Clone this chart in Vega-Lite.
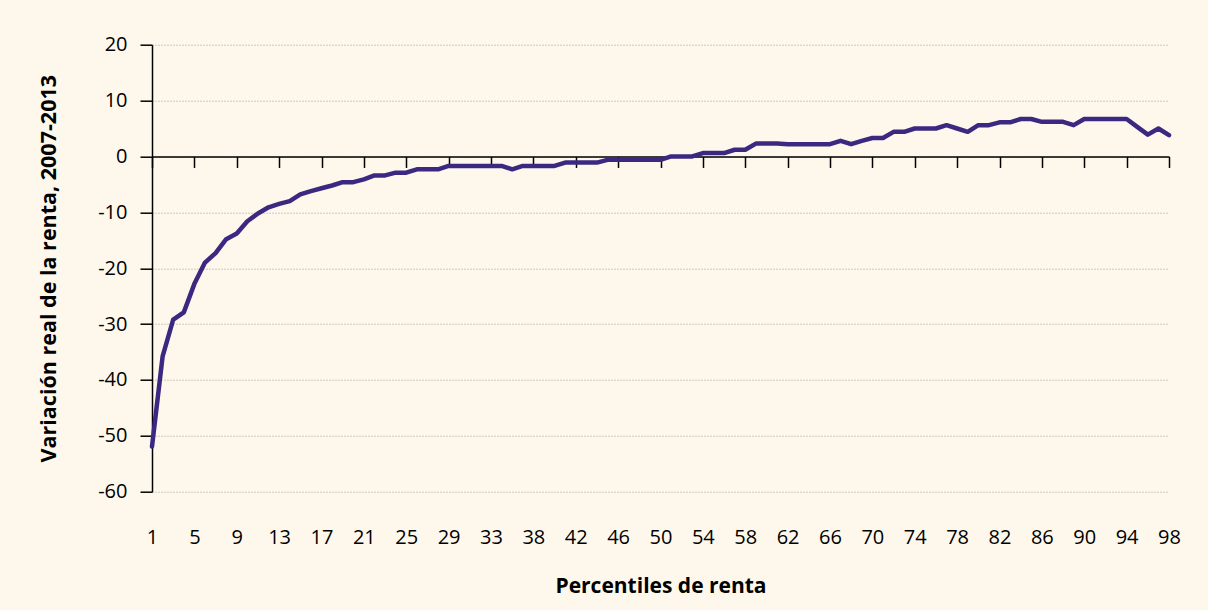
{
  "$schema": "https://vega.github.io/schema/vega-lite/v6.json",
  "autosize": "none",
  "width": 1017,
  "height": 447,
  "padding": {"left": 152, "top": 44.7, "right": 39, "bottom": 118.3},
  "background": "#fef8ec",
  "config": {
    "view": {"stroke": null},
    "font": "Open Sans",
    "axis": {"labelColor": "#000", "titleColor": "#000", "labelFont": "Open Sans", "titleFont": "Open Sans"}
  },
  "data": {
    "values": [
      {"p": 1, "v": -51.9}, {"p": 2, "v": -35.8}, {"p": 3, "v": -29.2}, {"p": 4, "v": -27.9},
      {"p": 5, "v": -22.8}, {"p": 6, "v": -19.0}, {"p": 7, "v": -17.3}, {"p": 8, "v": -14.8},
      {"p": 9, "v": -13.8}, {"p": 10, "v": -11.6}, {"p": 11, "v": -10.2}, {"p": 12, "v": -9.1},
      {"p": 13, "v": -8.5}, {"p": 14, "v": -8.0}, {"p": 15, "v": -6.8}, {"p": 16, "v": -6.2},
      {"p": 17, "v": -5.7}, {"p": 18, "v": -5.2}, {"p": 19, "v": -4.6}, {"p": 20, "v": -4.6},
      {"p": 21, "v": -4.1}, {"p": 22, "v": -3.4}, {"p": 23, "v": -3.4}, {"p": 24, "v": -2.9},
      {"p": 25, "v": -2.9}, {"p": 26, "v": -2.3}, {"p": 27, "v": -2.3}, {"p": 28, "v": -2.3},
      {"p": 29, "v": -1.7}, {"p": 30, "v": -1.7}, {"p": 31, "v": -1.7}, {"p": 32, "v": -1.7},
      {"p": 33, "v": -1.7}, {"p": 35, "v": -1.7}, {"p": 36, "v": -2.3}, {"p": 37, "v": -1.7},
      {"p": 38, "v": -1.7}, {"p": 39, "v": -1.7}, {"p": 40, "v": -1.7}, {"p": 41, "v": -1.1},
      {"p": 42, "v": -1.1}, {"p": 43, "v": -1.1}, {"p": 44, "v": -1.1}, {"p": 45, "v": -0.6},
      {"p": 46, "v": -0.6}, {"p": 47, "v": -0.6}, {"p": 48, "v": -0.6}, {"p": 49, "v": -0.6},
      {"p": 50, "v": -0.6}, {"p": 51, "v": 0.0}, {"p": 52, "v": 0.0}, {"p": 53, "v": 0.0},
      {"p": 54, "v": 0.6}, {"p": 55, "v": 0.6}, {"p": 56, "v": 0.6}, {"p": 57, "v": 1.2},
      {"p": 58, "v": 1.2}, {"p": 59, "v": 2.3}, {"p": 60, "v": 2.3}, {"p": 61, "v": 2.3},
      {"p": 62, "v": 2.2}, {"p": 63, "v": 2.2}, {"p": 64, "v": 2.2}, {"p": 65, "v": 2.2},
      {"p": 66, "v": 2.2}, {"p": 67, "v": 2.8}, {"p": 68, "v": 2.2}, {"p": 69, "v": 2.8},
      {"p": 70, "v": 3.3}, {"p": 71, "v": 3.3}, {"p": 72, "v": 4.4}, {"p": 73, "v": 4.4},
      {"p": 74, "v": 5.0}, {"p": 75, "v": 5.0}, {"p": 76, "v": 5.0}, {"p": 77, "v": 5.6},
      {"p": 78, "v": 5.0}, {"p": 79, "v": 4.4}, {"p": 80, "v": 5.6}, {"p": 81, "v": 5.6},
      {"p": 82, "v": 6.1}, {"p": 83, "v": 6.1}, {"p": 84, "v": 6.7}, {"p": 85, "v": 6.7},
      {"p": 86, "v": 6.2}, {"p": 87, "v": 6.2}, {"p": 88, "v": 6.2}, {"p": 89, "v": 5.6},
      {"p": 90, "v": 6.7}, {"p": 91, "v": 6.7}, {"p": 92, "v": 6.7}, {"p": 93, "v": 6.7},
      {"p": 94, "v": 6.7}, {"p": 95, "v": 5.3}, {"p": 96, "v": 3.9}, {"p": 97, "v": 5.0},
      {"p": 98, "v": 3.8}
    ]
  },
  "mark": {"type": "line", "color": "#3b2881", "strokeWidth": 4.5, "strokeJoin": "round", "strokeCap": "round"},
  "encoding": {
    "x": {
      "field": "p",
      "type": "ordinal",
      "sort": null,
      "scale": {"type": "point", "padding": 0},
      "axis": {
        "values": [1, 5, 9, 13, 17, 21, 25, 29, 33, 38, 42, 46, 50, 54, 58, 62, 66, 70, 74, 78, 82, 86, 90, 94, 98],
        "offset": -335.25,
        "domainColor": "#000",
        "domainWidth": 1.5,
        "tickColor": "#000",
        "tickSize": 11,
        "tickWidth": 1.5,
        "labelAngle": 0,
        "labelFontSize": 20,
        "labelPadding": 360,
        "labelOverlap": false,
        "grid": false,
        "title": "Percentiles de renta",
        "titleFontSize": 21,
        "titleFontWeight": "bold",
        "titlePadding": 219
      }
    },
    "y": {
      "field": "v",
      "type": "quantitative",
      "scale": {"domain": [-60, 20], "nice": false, "zero": false},
      "axis": {
        "values": [-60, -50, -40, -30, -20, -10, 0, 10, 20],
        "labelExpr": "'' + datum.value",
        "domainColor": "#000",
        "domainWidth": 1.5,
        "tickColor": "#000",
        "tickSize": 12,
        "tickWidth": 1.5,
        "labelFontSize": 20,
        "labelPadding": 13,
        "grid": true,
        "gridColor": "#9a9a9a",
        "gridDash": [1, 2],
        "gridWidth": 1,
        "title": "Variación real de la renta, 2007-2013",
        "titleFontSize": 21.5,
        "titleFontWeight": "bold",
        "titlePadding": 37
      }
    }
  }
}
